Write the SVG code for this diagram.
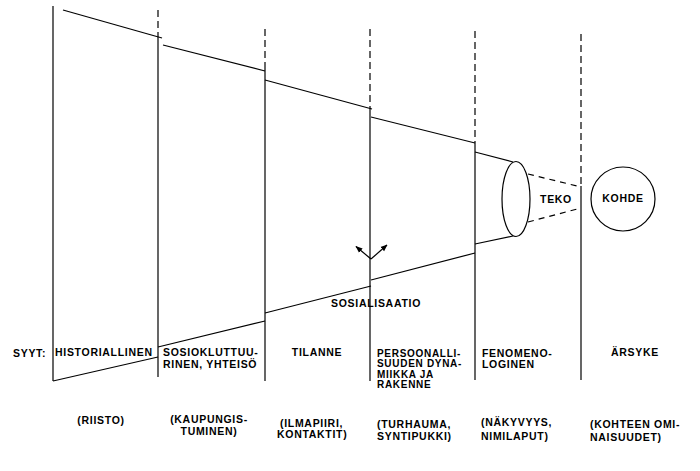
<svg xmlns="http://www.w3.org/2000/svg" width="700" height="471" viewBox="0 0 700 471">
<style>
.ln{stroke:#000;stroke-width:1.2;fill:none}
.dash{stroke:#000;stroke-width:1.2;fill:none;stroke-dasharray:7,4}
.t{font-family:"Liberation Sans",Arial,sans-serif;font-weight:bold;font-size:10.5px;letter-spacing:0.7px;fill:#000}
.s{font-size:10px}
.m{text-anchor:middle}
</style>
<defs>
<marker id="ah" viewBox="0 0 10 10" refX="9" refY="5" markerWidth="7" markerHeight="7" orient="auto" markerUnits="userSpaceOnUse">
<path d="M0,1 L10,5 L0,9 z" fill="#000"/>
</marker>
</defs>
<rect width="700" height="471" fill="#fff"/>
<g id="dividers">
<line class="ln" x1="53" y1="6" x2="53" y2="381"/>
<line class="dash" x1="158" y1="10" x2="158" y2="33"/>
<line class="ln" x1="158" y1="33" x2="158" y2="377"/>
<line class="dash" x1="265" y1="29" x2="265" y2="65"/>
<line class="ln" x1="265" y1="65" x2="265" y2="381"/>
<line class="dash" x1="370" y1="29" x2="370" y2="108"/>
<line class="ln" x1="370" y1="108" x2="370" y2="381"/>
<line class="dash" x1="475" y1="31" x2="475" y2="143"/>
<line class="ln" x1="475" y1="143" x2="475" y2="380"/>
<line class="dash" x1="581" y1="34" x2="581" y2="186"/>
<line class="ln" x1="581" y1="186" x2="581" y2="380"/>
</g>
<g id="connectors">
<line class="ln" x1="63" y1="10" x2="162" y2="38"/>
<line class="ln" x1="163" y1="45" x2="265" y2="71"/>
<line class="ln" x1="265" y1="80" x2="372" y2="109"/>
<line class="ln" x1="371" y1="117" x2="475" y2="143"/>
<line class="ln" x1="475" y1="152" x2="513" y2="162"/>
<line class="ln" x1="53" y1="381" x2="158" y2="357"/>
<line class="ln" x1="158" y1="347" x2="265" y2="321"/>
<line class="ln" x1="265" y1="313" x2="371" y2="286"/>
<line class="ln" x1="371" y1="280" x2="475" y2="253"/>
<line class="ln" x1="475" y1="244" x2="513" y2="236"/>
<line class="dash" x1="528" y1="174" x2="581" y2="187" style="stroke-dasharray:6,5"/>
<line class="dash" x1="528" y1="222" x2="581" y2="208" style="stroke-dasharray:6,5"/>
<line class="ln" x1="371" y1="259" x2="356" y2="246.5" marker-end="url(#ah)"/>
<line class="ln" x1="371" y1="259" x2="387" y2="245" marker-end="url(#ah)"/>
</g>
<g id="teko">
<ellipse class="ln" cx="516" cy="199" rx="14" ry="37.5"/>
<text class="t m" x="556" y="203">TEKO</text>
</g>
<g id="kohde">
<circle class="ln" cx="623" cy="199" r="32"/>
<text class="t m" x="623" y="201.5">KOHDE</text>
</g>
<g id="sosialisaatio">
<text class="t m" x="376" y="307">SOSIALISAATIO</text>
</g>
<g id="labels">
<text class="t" x="13" y="357">SYYT:</text>
<text class="t" x="55" y="356">HISTORIALLINEN</text>
<text class="t" x="163" y="356">SOSIOKLUTTUU-</text>
<text class="t" x="163" y="368">RINEN, YHTEISÖ</text>
<text class="t m" x="317" y="356">TILANNE</text>
<text class="t s" x="377" y="356.5">PERSOONALLI-</text>
<text class="t s" x="377" y="367">SUUDEN DYNA-</text>
<text class="t s" x="377" y="377.5">MIIKKA JA</text>
<text class="t s" x="377" y="388">RAKENNE</text>
<text class="t" x="482" y="357">FENOMENO-</text>
<text class="t" x="482" y="368">LOGINEN</text>
<text class="t m" x="635" y="356">ÄRSYKE</text>
</g>
<g id="examples">
<text class="t m" x="101" y="424">(RIISTO)</text>
<text class="t m" x="209" y="423">(KAUPUNGIS-</text>
<text class="t m" x="209" y="435">TUMINEN)</text>
<text class="t" x="280" y="427">(ILMAPIIRI,</text>
<text class="t" x="277" y="438">KONTAKTIT)</text>
<text class="t" x="377" y="428">(TURHAUMA,</text>
<text class="t" x="377" y="440">SYNTIPUKKI)</text>
<text class="t" x="481" y="426">(NÄKYVYYS,</text>
<text class="t" x="481" y="440">NIMILAPUT)</text>
<text class="t" x="590" y="428">(KOHTEEN OMI-</text>
<text class="t" x="590" y="441">NAISUUDET)</text>
</g>
</svg>
